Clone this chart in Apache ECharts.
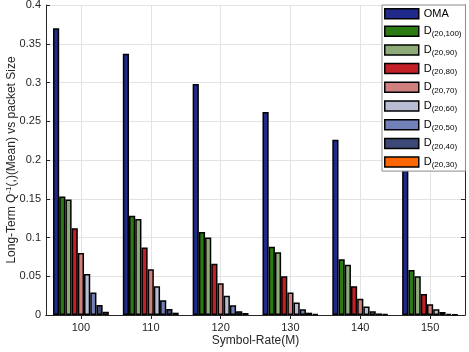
<!DOCTYPE html>
<html>
<head>
<meta charset="utf-8">
<script src="https://cdn.jsdelivr.net/npm/echarts@6/dist/echarts.min.js"></script>
<style>
  html, body { margin: 0; padding: 0; background: #fff; }
  #chart { width: 469px; height: 352px; }
</style>
</head>
<body>
<div id="chart"></div>
<script>
// data
const rates = ['100', '110', '120', '130', '140', '150']
const gridTicks = ['95', '100', '105', '110', '115', '120', '125', '130', '135', '140', '145', '150', '155']
const seriesNames = ['OMA', 'D(20,100)', 'D(20,90)', 'D(20,80)', 'D(20,70)', 'D(20,60)', 'D(20,50)', 'D(20,40)', 'D(20,30)']
const oma  = [0.370, 0.337, 0.298, 0.262, 0.226, 0.190]
const d100 = [0.153, 0.128, 0.107, 0.088, 0.072, 0.058]
const d90  = [0.149, 0.124, 0.100, 0.081, 0.065, 0.050]
const d80  = [0.112, 0.087, 0.066, 0.050, 0.037, 0.027]
const d70  = [0.080, 0.059, 0.041, 0.029, 0.021, 0.014]
const d60  = [0.053, 0.037, 0.025, 0.016, 0.011, 0.0074]
const d50  = [0.029, 0.019, 0.0125, 0.0074, 0.005, 0.004]
const d40  = [0.013, 0.0077, 0.005, 0.003, 0.002, 0.0015]
const d30  = [0.0043, 0.003, 0.0026, 0.001, 0.001, 0.0005]
const values = [oma, d100, d90, d80, d70, d60, d50, d40, d30]
const colors = ['#1f2a8a', '#2b7a12', '#8cab78', '#c21f26', '#d07f7f', '#b8bdd4', '#7180b8', '#3c4875', '#ff6600']

const chart = echarts.init(document.getElementById('chart'))
const axisColor = '#262626'
const font = 'Liberation Sans, Arial, sans-serif'

chart.setOption({
  animation: false,
  textStyle: { fontFamily: font },
  grid: { left: 46, right: 4, top: 5, bottom: 37, containLabel: false, outerBoundsMode: 'none' },
  legend: {
    orient: 'vertical',
    left: 382,
    top: 5,
    width: 81,
    padding: [3, 4, 2, 2],
    itemWidth: 34,
    itemHeight: 10,
    itemGap: 4.7,
    backgroundColor: '#fff',
    borderColor: '#8c8c8c',
    borderWidth: 1,
    itemStyle: { borderColor: '#000', borderWidth: 1.5 },
    formatter: name => name === 'OMA' ? '{o|OMA}' : '{m|D}{s|' + name.slice(1) + '}',
    data: seriesNames.map(n => ({ name: n, icon: 'rect' })),
    textStyle: {
      color: '#000', fontSize: 11,
      rich: {
        o: { fontSize: 11, color: '#000', lineHeight: 16 },
        m: { fontSize: 11, color: '#000', lineHeight: 12 },
        s: { fontSize: 8, color: '#000', lineHeight: 10, padding: [6, 0, 0, 0] }
      }
    }
  },
  xAxis: [{
    type: 'category',
    data: rates,
    position: 'bottom',
    name: 'Symbol-Rate(M)',
    nameLocation: 'middle',
    nameGap: 20,
    nameMoveOverlap: false,
    nameTextStyle: { fontSize: 12, color: axisColor },
    axisLine: { lineStyle: { color: axisColor } },
    axisTick: { show: false },
    axisLabel: { fontSize: 11, color: axisColor, margin: 7 },
    splitLine: { show: false }
  }, {
    type: 'category',
    data: gridTicks,
    boundaryGap: false,
    position: 'top',
    axisLine: { show: true, lineStyle: { color: axisColor } },
    axisTick: { show: true, inside: true, length: 4, interval: i => i % 2 === 1, lineStyle: { color: axisColor } },
    axisLabel: { show: false },
    splitLine: { show: true, interval: i => i % 2 === 1, lineStyle: { color: '#e3e3e3' } }
  }, {
    type: 'category',
    data: gridTicks,
    boundaryGap: false,
    position: 'bottom',
    axisLine: { show: false },
    axisTick: { show: true, inside: true, length: 4, interval: i => i % 2 === 1, lineStyle: { color: axisColor } },
    axisLabel: { show: false },
    splitLine: { show: false }
  }],
  yAxis: [{
    type: 'value',
    min: 0,
    max: 0.4,
    interval: 0.05,
    name: '{t|Long-Term Q}{sup|-1}{t|(,)(Mean) vs packet Size}',
    nameLocation: 'middle',
    nameRotate: 90,
    nameGap: 28,
    nameMoveOverlap: false,
    nameTextStyle: {
      color: axisColor,
      rich: {
        t: { fontSize: 12, color: axisColor },
        sup: { fontSize: 8, color: axisColor, padding: [0, 0, 5, 0] }
      }
    },
    axisLine: { show: true, lineStyle: { color: axisColor } },
    axisTick: { show: true, inside: true, length: 4, lineStyle: { color: axisColor } },
    axisLabel: { fontSize: 11, color: axisColor, margin: 5 },
    splitLine: { show: true, lineStyle: { color: '#e3e3e3' } }
  }, {
    type: 'value',
    min: 0,
    max: 0.4,
    interval: 0.05,
    position: 'right',
    axisLine: { show: true, lineStyle: { color: axisColor } },
    axisTick: { show: true, inside: true, length: 4, lineStyle: { color: axisColor } },
    axisLabel: { show: false },
    splitLine: { show: false }
  }],
  series: seriesNames.map((name, i) => ({
    name,
    type: 'bar',
    xAxisIndex: 0,
    yAxisIndex: 0,
    data: values[i],
    barGap: '0%',
    barCategoryGap: '20%',
    itemStyle: { color: colors[i], borderColor: '#000', borderWidth: 1.5 }
  }))
})
</script>
</body>
</html>
